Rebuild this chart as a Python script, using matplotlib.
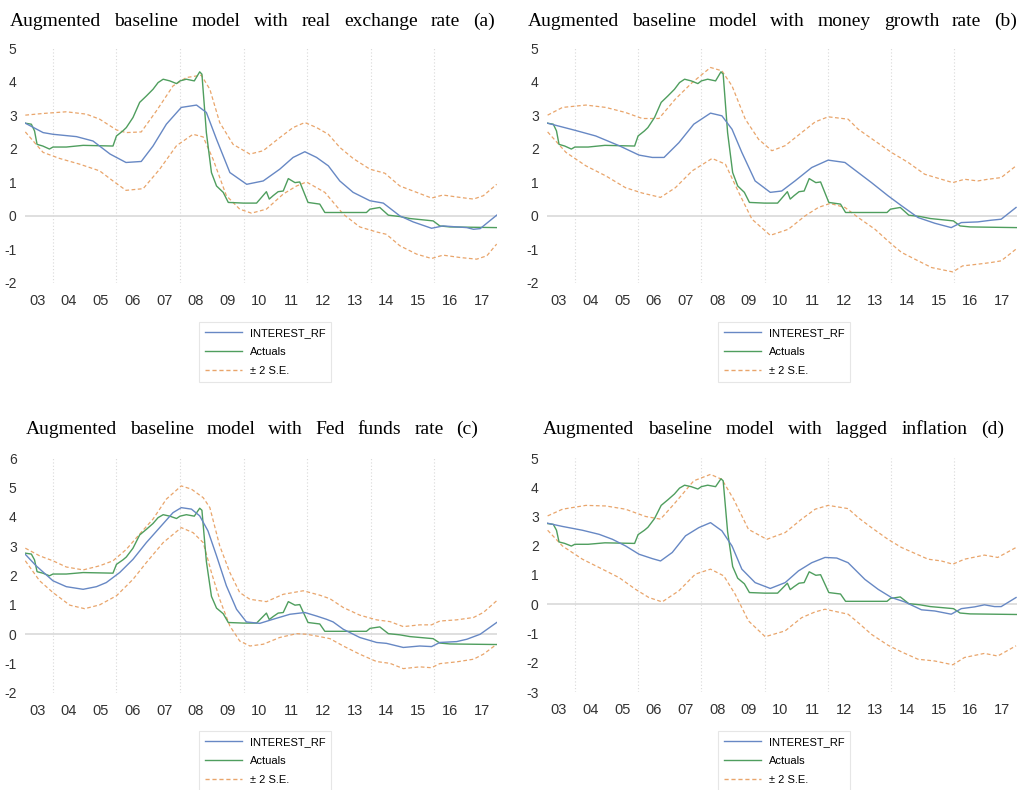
import matplotlib
matplotlib.use('Agg')
import matplotlib.pyplot as plt
from matplotlib.lines import Line2D

W, H = 1024, 790

# --- data (decimal year, value) ---
actuals = [
    (2003.13, 2.76), (2003.32, 2.73), (2003.42, 2.53), (2003.50, 2.13), (2003.68, 2.08),
    (2003.89, 1.99), (2004.00, 2.05), (2004.42, 2.05), (2004.95, 2.10), (2005.89, 2.08),
    (2006.00, 2.38), (2006.20, 2.53), (2006.31, 2.63), (2006.52, 2.93), (2006.73, 3.38),
    (2006.94, 3.57), (2007.15, 3.77), (2007.31, 3.97), (2007.47, 4.07), (2007.68, 4.02),
    (2007.89, 3.94), (2008.00, 4.02), (2008.20, 4.07), (2008.45, 4.02), (2008.62, 4.29),
    (2008.69, 4.22), (2008.83, 2.48), (2008.99, 1.29), (2009.15, 0.89), (2009.36, 0.70),
    (2009.52, 0.40), (2010.00, 0.38), (2010.41, 0.38), (2010.52, 0.50), (2010.72, 0.72),
    (2010.81, 0.50), (2010.93, 0.60), (2011.09, 0.72), (2011.25, 0.74), (2011.41, 1.11),
    (2011.62, 0.99), (2011.77, 1.01), (2012.03, 0.40), (2012.40, 0.35), (2012.56, 0.10),
    (2013.87, 0.10), (2013.98, 0.20), (2014.29, 0.25), (2014.56, 0.02), (2014.92, -0.02),
    (2015.24, -0.08), (2015.66, -0.12), (2015.97, -0.15), (2016.18, -0.30), (2016.50, -0.33),
    (2017.97, -0.35),
]

fit_a = [
    (2003.13, 2.76), (2003.69, 2.48), (2004.00, 2.43), (2004.74, 2.36), (2005.26, 2.23),
    (2005.80, 1.84), (2006.30, 1.59), (2006.78, 1.62), (2007.15, 2.08), (2007.57, 2.73),
    (2008.04, 3.23), (2008.52, 3.30), (2008.83, 3.08), (2009.15, 2.28), (2009.57, 1.29),
    (2010.10, 0.94), (2010.62, 1.04), (2011.14, 1.39), (2011.56, 1.74), (2011.93, 1.91),
    (2012.30, 1.74), (2012.67, 1.49), (2013.03, 1.04), (2013.45, 0.70), (2013.98, 0.45),
    (2014.40, 0.38), (2014.92, 0.00), (2015.34, -0.18), (2015.92, -0.37), (2016.28, -0.30),
    (2017.03, -0.35), (2017.24, -0.40), (2017.45, -0.38), (2017.97, 0.02),
]
upper_a = [
    (2003.13, 3.00), (2003.69, 3.05), (2004.42, 3.10), (2005.05, 3.03), (2005.47, 2.88),
    (2006.00, 2.56), (2006.30, 2.48), (2006.78, 2.50), (2007.26, 3.13), (2007.78, 3.87),
    (2008.20, 4.12), (2008.67, 4.19), (2008.94, 3.77), (2009.25, 2.78), (2009.67, 2.13),
    (2010.20, 1.84), (2010.62, 1.94), (2011.14, 2.33), (2011.56, 2.63), (2011.93, 2.78),
    (2012.30, 2.63), (2012.67, 2.43), (2013.03, 2.04), (2013.45, 1.71), (2013.98, 1.39),
    (2014.45, 1.27), (2014.92, 0.89), (2015.45, 0.70), (2015.92, 0.53), (2016.28, 0.62),
    (2016.81, 0.55), (2017.24, 0.50), (2017.55, 0.60), (2017.97, 0.94),
]
lower_a = [
    (2003.13, 2.50), (2003.69, 1.89), (2004.21, 1.71), (2004.84, 1.54), (2005.47, 1.34),
    (2005.89, 1.04), (2006.30, 0.76), (2006.84, 0.81), (2007.36, 1.39), (2007.89, 2.09),
    (2008.41, 2.43), (2008.73, 2.35), (2009.04, 1.69), (2009.46, 0.60), (2009.88, 0.20),
    (2010.25, 0.08), (2010.72, 0.20), (2011.25, 0.65), (2011.67, 0.89), (2011.98, 1.01),
    (2012.56, 0.70), (2013.14, 0.05), (2013.66, -0.33), (2014.19, -0.48), (2014.50, -0.55),
    (2014.92, -0.89), (2015.45, -1.14), (2015.92, -1.27), (2016.28, -1.17), (2016.81, -1.24),
    (2017.34, -1.29), (2017.66, -1.19), (2017.97, -0.84),
]

fit_b = [
    (2003.14, 2.76), (2004.00, 2.55), (2004.66, 2.38), (2005.40, 2.09), (2006.03, 1.81),
    (2006.45, 1.74), (2006.82, 1.74), (2007.29, 2.18), (2007.76, 2.73), (2008.29, 3.06),
    (2008.65, 2.98), (2008.97, 2.58), (2009.28, 1.89), (2009.70, 1.04), (2010.18, 0.70),
    (2010.54, 0.74), (2010.96, 1.04), (2011.49, 1.44), (2012.01, 1.66), (2012.54, 1.59),
    (2012.96, 1.29), (2013.38, 0.99), (2013.90, 0.60), (2014.33, 0.30), (2014.85, -0.05),
    (2015.38, -0.22), (2015.90, -0.35), (2016.22, -0.20), (2016.74, -0.18), (2017.16, -0.13),
    (2017.48, -0.10), (2017.95, 0.25),
]
upper_b = [
    (2003.14, 3.00), (2003.61, 3.23), (2004.35, 3.30), (2004.98, 3.23), (2005.60, 3.08),
    (2006.13, 2.90), (2006.66, 2.90), (2007.18, 3.48), (2007.71, 3.97), (2008.29, 4.42),
    (2008.65, 4.32), (2008.97, 3.87), (2009.39, 2.88), (2009.81, 2.28), (2010.23, 1.94),
    (2010.65, 2.09), (2011.17, 2.48), (2011.60, 2.80), (2012.01, 2.95), (2012.64, 2.88),
    (2012.96, 2.58), (2013.49, 2.23), (2014.01, 1.89), (2014.54, 1.59), (2015.06, 1.24),
    (2015.59, 1.09), (2015.95, 0.99), (2016.32, 1.09), (2016.74, 1.04), (2017.06, 1.09),
    (2017.48, 1.14), (2017.95, 1.49),
]
lower_b = [
    (2003.14, 2.50), (2003.72, 1.89), (2004.35, 1.49), (2004.98, 1.19), (2005.60, 0.84),
    (2006.13, 0.68), (2006.71, 0.55), (2007.18, 0.84), (2007.71, 1.34), (2008.34, 1.71),
    (2008.76, 1.54), (2009.18, 0.70), (2009.60, -0.10), (2010.18, -0.58), (2010.75, -0.40),
    (2011.28, 0.00), (2011.70, 0.25), (2012.07, 0.37), (2012.54, 0.25), (2012.96, -0.05),
    (2013.49, -0.40), (2014.01, -0.84), (2014.33, -1.09), (2014.75, -1.29), (2015.28, -1.54),
    (2015.95, -1.67), (2016.26, -1.49), (2016.74, -1.44), (2017.16, -1.39), (2017.48, -1.34),
    (2017.95, -0.99),
]

fit_c = [
    (2003.13, 2.72), (2003.47, 2.33), (2004.00, 1.82), (2004.42, 1.62), (2004.95, 1.53),
    (2005.37, 1.62), (2005.68, 1.76), (2006.10, 2.10), (2006.52, 2.55), (2006.94, 3.12),
    (2007.36, 3.63), (2007.78, 4.14), (2008.04, 4.31), (2008.36, 4.26), (2008.62, 4.03),
    (2008.88, 3.52), (2009.15, 2.67), (2009.46, 1.65), (2009.78, 0.85), (2010.09, 0.42),
    (2010.51, 0.37), (2010.93, 0.51), (2011.46, 0.68), (2011.93, 0.74), (2012.30, 0.62),
    (2012.61, 0.51), (2012.82, 0.42), (2013.14, 0.17), (2013.66, -0.11), (2014.19, -0.28),
    (2014.50, -0.31), (2015.03, -0.45), (2015.55, -0.40), (2015.92, -0.42), (2016.18, -0.28),
    (2016.71, -0.25), (2017.03, -0.17), (2017.45, 0.00), (2017.97, 0.40),
]
upper_c = [
    (2003.13, 2.93), (2003.58, 2.67), (2004.00, 2.50), (2004.42, 2.29), (2004.95, 2.19),
    (2005.47, 2.33), (2005.89, 2.50), (2006.31, 2.89), (2006.73, 3.41), (2007.15, 3.92),
    (2007.57, 4.60), (2008.04, 5.05), (2008.36, 4.94), (2008.73, 4.65), (2008.94, 4.31),
    (2009.25, 3.01), (2009.57, 2.10), (2009.88, 1.42), (2010.20, 1.19), (2010.72, 1.11),
    (2011.25, 1.36), (2011.88, 1.48), (2012.40, 1.33), (2012.72, 1.21), (2013.14, 0.91),
    (2013.66, 0.65), (2014.19, 0.49), (2014.61, 0.43), (2015.03, 0.26), (2015.55, 0.32),
    (2015.92, 0.32), (2016.18, 0.45), (2016.71, 0.49), (2017.24, 0.57), (2017.55, 0.74),
    (2017.97, 1.14),
]
lower_c = [
    (2003.13, 2.50), (2003.58, 1.82), (2004.00, 1.42), (2004.53, 0.99), (2005.00, 0.87),
    (2005.47, 1.00), (2006.00, 1.31), (2006.52, 1.87), (2006.94, 2.44), (2007.47, 3.12),
    (2008.04, 3.63), (2008.41, 3.46), (2008.73, 3.12), (2008.99, 2.10), (2009.25, 1.19),
    (2009.57, 0.28), (2009.88, -0.23), (2010.20, -0.40), (2010.62, -0.34), (2011.14, -0.11),
    (2011.67, 0.02), (2011.98, 0.00), (2012.40, -0.08), (2012.72, -0.15), (2013.14, -0.40),
    (2013.66, -0.68), (2014.19, -0.93), (2014.61, -0.99), (2015.03, -1.17), (2015.55, -1.11),
    (2015.92, -1.14), (2016.18, -1.00), (2016.71, -0.94), (2017.24, -0.85), (2017.55, -0.68),
    (2017.97, -0.34),
]

fit_d = [
    (2003.14, 2.77), (2003.61, 2.66), (2004.24, 2.53), (2004.77, 2.39), (2005.19, 2.22),
    (2005.61, 1.99), (2006.03, 1.71), (2006.45, 1.56), (2006.71, 1.48), (2007.08, 1.77),
    (2007.50, 2.34), (2007.92, 2.62), (2008.29, 2.79), (2008.65, 2.51), (2008.97, 1.99),
    (2009.28, 1.20), (2009.70, 0.74), (2010.18, 0.54), (2010.65, 0.74), (2011.07, 1.14),
    (2011.49, 1.42), (2011.91, 1.60), (2012.28, 1.58), (2012.64, 1.42), (2013.17, 0.85),
    (2013.59, 0.51), (2014.01, 0.23), (2014.43, 0.08), (2014.96, -0.19), (2015.38, -0.23),
    (2015.90, -0.34), (2016.22, -0.15), (2016.64, -0.09), (2016.95, -0.02), (2017.27, -0.08),
    (2017.48, -0.08), (2017.95, 0.23),
]
upper_d = [
    (2003.14, 3.02), (2003.61, 3.25), (2004.35, 3.38), (2004.98, 3.36), (2005.60, 3.25),
    (2006.24, 3.00), (2006.71, 2.91), (2007.18, 3.48), (2007.76, 4.22), (2008.29, 4.44),
    (2008.65, 4.27), (2009.02, 3.59), (2009.49, 2.56), (2010.07, 2.22), (2010.65, 2.45),
    (2011.17, 2.91), (2011.60, 3.25), (2012.01, 3.38), (2012.64, 3.27), (2012.96, 2.96),
    (2013.38, 2.62), (2013.90, 2.22), (2014.33, 1.94), (2014.75, 1.74), (2015.17, 1.54),
    (2015.59, 1.48), (2015.95, 1.37), (2016.32, 1.54), (2016.95, 1.68), (2017.37, 1.60),
    (2017.95, 1.94),
]
lower_d = [
    (2003.14, 2.53), (2003.61, 1.99), (2004.24, 1.54), (2004.87, 1.20), (2005.40, 0.91),
    (2005.92, 0.51), (2006.34, 0.23), (2006.76, 0.08), (2007.29, 0.46), (2007.81, 1.03),
    (2008.29, 1.20), (2008.71, 0.97), (2009.07, 0.34), (2009.49, -0.57), (2010.02, -1.11),
    (2010.65, -0.91), (2011.17, -0.46), (2011.60, -0.26), (2011.91, -0.17), (2012.64, -0.34),
    (2012.96, -0.63), (2013.38, -1.03), (2013.90, -1.40), (2014.33, -1.63), (2014.85, -1.88),
    (2015.38, -1.94), (2015.95, -2.07), (2016.32, -1.82), (2016.95, -1.68), (2017.37, -1.77),
    (2017.95, -1.42),
]

titles = [
    'Augmented baseline model with real exchange rate (a)',
    'Augmented baseline model with money growth rate (b)',
    'Augmented baseline model with Fed funds rate (c)',
    'Augmented baseline model with lagged inflation (d)',
]
legend_labels = ['INTEREST_RF', 'Actuals', '\u00b1 2 S.E.']
year_labels = ['03', '04', '05', '06', '07', '08', '09', '10', '11', '12', '13', '14', '15', '16', '17']
first_year = 2003

BLUE = '#6788C4'
GREEN = '#4F9E5E'
ORANGE = '#E9A56B'
GRID = '#D9D9D9'
SANS = 'Liberation Sans'
SERIF = 'Liberation Serif'

fig = plt.figure(figsize=(W / 100, H / 100), dpi=100)
fig.patch.set_facecolor('white')


def px_box(x0, x1, ytop, ybot):
    return [x0 / W, 1 - ybot / H, (x1 - x0) / W, (ybot - ytop) / H]


def unzip(pairs):
    return [p[0] for p in pairs], [p[1] for p in pairs]


def justified_title(text, x0, x1, baseline):
    # the titles in the source are set with wide, justified word spacing
    words = text.split()
    arts = [fig.text(0, 1 - baseline / H, w, fontsize=14, family=SERIF, va='baseline')
            for w in words]
    r = fig.canvas.get_renderer()
    widths = [a.get_window_extent(r).width for a in arts]
    gap = ((x1 - x0) - sum(widths)) / (len(words) - 1)
    x = x0
    for a, w in zip(arts, widths):
        a.set_x(x / W)
        x += w + gap


panels = [
    # (fit, upper, lower, ylim, axes px box, title px, legend px)
    (fit_a, upper_a, lower_a, (-2, 5), (25, 497, 48, 283), (10, 495, 26), (199, 322)),
    (fit_b, upper_b, lower_b, (-2, 5), (547, 1017, 48, 283), (528, 1017, 26), (718, 322)),
    (fit_c, upper_c, lower_c, (-2, 6), (25, 497, 458, 693), (26, 478, 434), (199, 731)),
    (fit_d, upper_d, lower_d, (-3, 5), (547, 1017, 458, 692), (543, 1004, 434), (718, 731)),
]

act_x, act_y = unzip(actuals)

for (fit, up, lo, ylim, box, tpos, lpos), title in zip(panels, titles):
    ax = fig.add_axes(px_box(box[0], box[1], box[2], box[3]))
    for s in ax.spines.values():
        s.set_visible(False)
    ax.set_xlim(2003.12, 2017.98)
    ax.set_ylim(*ylim)

    for yr in range(2004, 2017, 2):
        ax.axvline(yr, color=GRID, lw=0.8, ls=(0, (1, 2)), zorder=0)
    ax.axhline(0, color=GRID, lw=1.2, zorder=1)

    fx, fy = unzip(fit)
    ux, uy = unzip(up)
    lx, ly = unzip(lo)
    ax.plot(ux, uy, color=ORANGE, lw=0.9, ls=(0, (3, 2)), zorder=2)
    ax.plot(lx, ly, color=ORANGE, lw=0.9, ls=(0, (3, 2)), zorder=2)
    ax.plot(act_x, act_y, color=GREEN, lw=1.0, zorder=3)
    ax.plot(fx, fy, color=BLUE, lw=1.0, zorder=4)

    ax.set_yticks(range(ylim[0], ylim[1] + 1))
    ax.set_yticklabels([str(v) for v in range(ylim[0], ylim[1] + 1)],
                       fontsize=10, family=SANS, color='#333333')
    ax.set_xticks([first_year + i + 0.5 for i in range(len(year_labels))])
    ax.set_xticklabels(year_labels, fontsize=10.5, family=SANS, color='#333333')
    ax.tick_params(length=0)
    ax.tick_params(axis='y', pad=6)
    ax.tick_params(axis='x', pad=8)

    justified_title(title, tpos[0], tpos[1], tpos[2])

    handles = [
        Line2D([], [], color=BLUE, lw=1.0),
        Line2D([], [], color=GREEN, lw=1.0),
        Line2D([], [], color=ORANGE, lw=1.0, ls=(0, (3, 2))),
    ]
    leg = fig.legend(handles, legend_labels, loc='upper left',
                     bbox_to_anchor=(lpos[0] / W, 1 - lpos[1] / H),
                     prop={'family': SANS, 'size': 8.0}, frameon=True, fancybox=False,
                     handlelength=3.3, handletextpad=0.7, labelspacing=0.82,
                     borderpad=0.55, borderaxespad=0)
    leg.get_frame().set_edgecolor('#E0E0E0')
    leg.get_frame().set_linewidth(0.8)

fig.savefig('out.png', dpi=100, facecolor='white')
